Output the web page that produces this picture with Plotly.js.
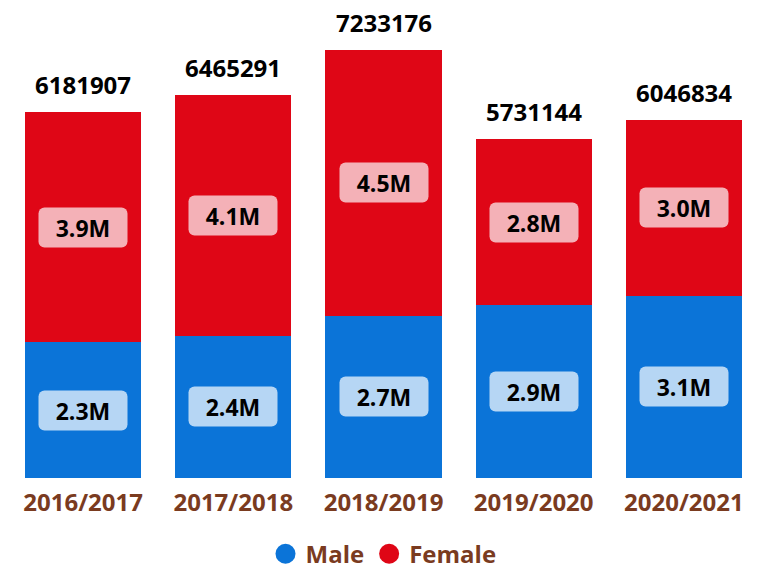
<!DOCTYPE html>
<html>
<head>
<meta charset="utf-8">
<script src="https://cdn.plot.ly/plotly-3.0.1.min.js"></script>
<style>html,body{margin:0;padding:0;background:#fff;}#chart{width:777px;height:573px;}</style>
</head>
<body>
<div id="chart"></div>
<script>
var years = ['2016/2017', '2017/2018', '2018/2019', '2019/2020', '2020/2021'];
var male = [2298412, 2401756, 2741530, 2918320, 3081204];
var female = [3883495, 4063535, 4491646, 2812824, 2965630];

var BLUE = '#0B74D8', RED = '#DF0616';
var LBLUE = '#B6D6F4', LPINK = '#F4B1B7';
var BROWN = '#7A3B1F';
var FONT = 'Open Sans, Noto Sans, DejaVu Sans, sans-serif';

function fmtM(v) { return (v / 1e6).toFixed(1) + 'M'; }
var totals = years.map(function (y, i) { return male[i] + female[i]; });

var traces = [
  { type: 'bar', x: years, y: male, marker: { color: BLUE }, showlegend: false, hoverinfo: 'skip' },
  { type: 'bar', x: years, y: female, marker: { color: RED }, showlegend: false, hoverinfo: 'skip' },
  { type: 'scatter', mode: 'markers', x: [null], y: [null], name: 'Male', marker: { color: BLUE, size: 20, symbol: 'circle' } },
  { type: 'scatter', mode: 'markers', x: [null], y: [null], name: 'Female', marker: { color: RED, size: 20, symbol: 'circle' } }
];

var annotations = [];
years.forEach(function (yr, i) {
  annotations.push({
    x: yr, y: male[i] / 2, xref: 'x', yref: 'y', text: fmtM(male[i]), showarrow: false,
    bgcolor: LBLUE, width: 80, height: 31, borderpad: 4,
    font: { family: FONT, size: 23, color: '#000', weight: 'bold' }
  });
  annotations.push({
    x: yr, y: male[i] + female[i] / 2, xref: 'x', yref: 'y', text: fmtM(female[i]), showarrow: false,
    bgcolor: LPINK, width: 80, height: 31, borderpad: 4,
    font: { family: FONT, size: 23, color: '#000', weight: 'bold' }
  });
  annotations.push({
    x: yr, y: totals[i], xref: 'x', yref: 'y', text: String(totals[i]), showarrow: false,
    yanchor: 'bottom', yshift: 9,
    font: { family: FONT, size: 24, color: '#000', weight: 'bold' }
  });
});

var layout = {
  width: 777, height: 573,
  margin: { l: 8, r: 18, t: 10, b: 95, autoexpand: false },
  barmode: 'stack', bargap: 0.227,
  paper_bgcolor: '#fff', plot_bgcolor: '#fff',
  hovermode: false,
  xaxis: {
    type: 'category', showgrid: false, zeroline: false, showline: false, ticks: '',
    ticklabelstandoff: 8, automargin: false,
    tickfont: { family: FONT, size: 24, color: BROWN, weight: 'bold' }
  },
  yaxis: { range: [0, 7.91e6], visible: false, showgrid: false, zeroline: false, fixedrange: true, automargin: false },
  showlegend: true,
  legend: {
    orientation: 'h', x: 0.5, xanchor: 'center', y: -0.2, yanchor: 'bottom',
    traceorder: 'normal',
    font: { family: FONT, size: 24, color: BROWN, weight: 'bold' },
    itemwidth: 30, tracegroupgap: 0
  },
  annotations: annotations
};

Plotly.newPlot('chart', traces, layout, { displayModeBar: false, staticPlot: true }).then(function () {
  document.querySelectorAll('.annotation rect.bg').forEach(function (r) {
    r.setAttribute('rx', 6); r.setAttribute('ry', 6);
  });
  document.querySelectorAll('.legendpoints path.scatterpts').forEach(function (p) {
    var t = p.getAttribute('transform') || '';
    p.setAttribute('transform', t + ' scale(1.25)');
  });
  var lg = document.querySelector('g.legend');
  if (lg) {
    var m = /translate\(\s*([-\d.]+)[ ,]+([-\d.]+)\s*\)/.exec(lg.getAttribute('transform') || '');
    if (m) lg.setAttribute('transform', 'translate(' + m[1] + ',' + (parseFloat(m[2]) + 5) + ')');
  }
});
</script>
</body>
</html>
